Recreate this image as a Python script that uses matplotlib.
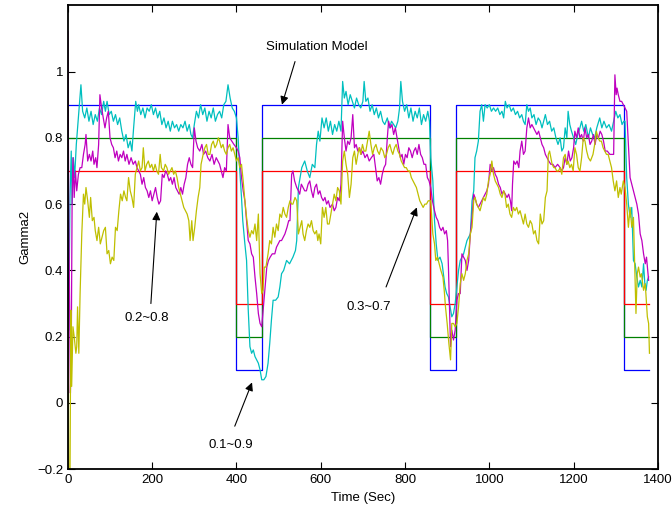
import numpy as np
import matplotlib
matplotlib.use("Agg")
import matplotlib.pyplot as plt

plt.rcParams['font.family'] = ['Liberation Sans', 'DejaVu Sans']

# switching instants of the simulation model and its three levels
switch_t = [0, 400, 460, 860, 920, 1320, 1380]
model_09 = [0.9, 0.1, 0.9, 0.1, 0.9, 0.1]
model_08 = [0.8, 0.2, 0.8, 0.2, 0.8, 0.2]
model_07 = [0.7, 0.3, 0.7, 0.3, 0.7, 0.3]

# estimated response 0.1~0.9 (cyan)
cyan_t = [0, 2, 5, 8, 10, 13, 16, 20, 25, 31, 35, 40, 45, 50, 55, 60, 65, 70, 75, 80, 85, 89, 93, 98,
          103, 108, 113, 118, 123, 128, 133, 138, 143, 148, 152, 156, 161, 165, 168, 173, 178, 183, 188,
          193, 198, 203, 208, 213, 218, 223, 228, 233, 238, 243, 248, 253, 258, 263, 268, 273, 278, 283,
          288, 292, 296, 300, 305, 310, 315, 320, 325, 330, 335, 340, 345, 350, 355, 360, 365, 370, 375,
          380, 385, 390, 395, 400, 404, 408, 412, 415, 420, 424, 428, 432, 436, 440, 444, 448, 452, 456,
          460, 465, 470, 475, 479, 483, 487, 493, 499, 503, 507, 512, 519, 526, 534, 540, 543, 547, 551,
          555, 562, 568, 574, 580, 586, 590, 594, 598, 603, 608, 613, 618, 623, 628, 633, 638, 643, 648,
          652, 656, 660, 665, 670, 675, 680, 685, 690, 695, 700, 703, 707, 712, 717, 722, 727, 732, 737,
          742, 747, 752, 758, 763, 768, 773, 778, 783, 787, 790, 794, 799, 804, 809, 814, 819, 824, 829,
          834, 839, 844, 849, 854, 858, 861, 866, 870, 874, 878, 883, 888, 892, 895, 899, 903, 907, 911,
          915, 919, 923, 927, 931, 935, 939, 943, 947, 951, 955, 959, 963, 966, 970, 974, 978, 982, 986,
          990, 995, 1000, 1005, 1010, 1015, 1020, 1025, 1030, 1034, 1038, 1042, 1047, 1052, 1057, 1062,
          1067, 1072, 1077, 1081, 1085, 1089, 1093, 1097, 1101, 1106, 1111, 1116, 1121, 1125, 1129, 1133,
          1138, 1143, 1148, 1153, 1158, 1163, 1168, 1172, 1176, 1180, 1184, 1187, 1191, 1195, 1200, 1205,
          1210, 1215, 1219, 1224, 1229, 1235, 1240, 1245, 1250, 1255, 1262, 1267, 1272, 1278, 1284, 1290,
          1295, 1300, 1305, 1310, 1315, 1319, 1322, 1326, 1330, 1334, 1338, 1342, 1346, 1350, 1354, 1358,
          1362, 1366, 1369, 1372, 1375, 1378]
cyan_v = [0.80, 0.22, 0.62, 0.76, 0.60, 0.74, 0.68, 0.78, 0.86, 0.96, 0.88, 0.86, 0.89, 0.85, 0.88, 0.84,
          0.87, 0.85, 0.89, 0.87, 0.91, 0.88, 0.91, 0.87, 0.88, 0.85, 0.87, 0.84, 0.86, 0.82, 0.79, 0.81,
          0.77, 0.79, 0.76, 0.83, 0.91, 0.88, 0.90, 0.87, 0.89, 0.86, 0.89, 0.88, 0.90, 0.87, 0.89, 0.86,
          0.88, 0.84, 0.86, 0.83, 0.85, 0.82, 0.85, 0.83, 0.84, 0.82, 0.84, 0.83, 0.85, 0.82, 0.84, 0.81,
          0.80, 0.84, 0.88, 0.86, 0.90, 0.87, 0.89, 0.85, 0.88, 0.86, 0.89, 0.85, 0.87, 0.88, 0.86, 0.90,
          0.91, 0.96, 0.92, 0.89, 0.88, 0.86, 0.80, 0.70, 0.62, 0.55, 0.48, 0.43, 0.28, 0.17, 0.15, 0.16,
          0.14, 0.13, 0.12, 0.10, 0.07, 0.07, 0.08, 0.12, 0.18, 0.25, 0.31, 0.31, 0.32, 0.35, 0.39, 0.40,
          0.43, 0.42, 0.44, 0.46, 0.49, 0.65, 0.68, 0.71, 0.73, 0.70, 0.68, 0.72, 0.71, 0.78, 0.82, 0.79,
          0.86, 0.83, 0.86, 0.82, 0.85, 0.81, 0.84, 0.82, 0.85, 0.82, 0.97, 0.92, 0.94, 0.90, 0.93, 0.91,
          0.89, 0.92, 0.90, 0.89, 0.91, 0.97, 0.91, 0.92, 0.88, 0.90, 0.87, 0.89, 0.86, 0.88, 0.85, 0.84,
          0.86, 0.83, 0.85, 0.84, 0.83, 0.85, 0.89, 0.97, 0.91, 0.88, 0.90, 0.86, 0.89, 0.85, 0.88, 0.86,
          0.89, 0.84, 0.87, 0.85, 0.88, 0.85, 0.74, 0.67, 0.55, 0.48, 0.43, 0.44, 0.42, 0.38, 0.35, 0.33,
          0.32, 0.29, 0.26, 0.27, 0.30, 0.35, 0.40, 0.43, 0.44, 0.45, 0.47, 0.49, 0.50, 0.51, 0.61, 0.64,
          0.74, 0.76, 0.79, 0.88, 0.90, 0.85, 0.90, 0.89, 0.90, 0.88, 0.89, 0.88, 0.89, 0.87, 0.88, 0.86,
          0.91, 0.89, 0.90, 0.88, 0.89, 0.87, 0.88, 0.86, 0.87, 0.85, 0.84, 0.90, 0.88, 0.89, 0.86, 0.87,
          0.84, 0.86, 0.85, 0.83, 0.85, 0.87, 0.84, 0.85, 0.82, 0.83, 0.80, 0.78, 0.80, 0.76, 0.77, 0.83,
          0.80, 0.88, 0.84, 0.82, 0.80, 0.78, 0.81, 0.83, 0.85, 0.82, 0.84, 0.80, 0.83, 0.81, 0.80, 0.83,
          0.86, 0.83, 0.85, 0.83, 0.84, 0.82, 0.85, 0.88, 0.86, 0.87, 0.84, 0.85, 0.85, 0.68, 0.60, 0.56,
          0.59, 0.43, 0.42, 0.38, 0.35, 0.37, 0.35, 0.42, 0.36, 0.34, 0.37, 0.38]

# estimated response 0.2~0.8 (magenta)
mag_t = [0, 2, 4, 6, 8, 10, 12, 15, 18, 21, 25, 29, 33, 37, 41, 43, 47, 51, 55, 59, 62, 66, 69, 73, 76,
         80, 84, 88, 92, 96, 100, 104, 108, 112, 116, 120, 124, 128, 132, 136, 140, 145, 150, 155, 160,
         164, 168, 172, 176, 180, 184, 188, 192, 196, 200, 204, 208, 212, 216, 220, 224, 228, 232, 236,
         240, 244, 248, 252, 256, 260, 264, 268, 272, 276, 280, 284, 288, 292, 296, 300, 304, 308, 313,
         318, 322, 327, 332, 337, 342, 347, 352, 356, 360, 364, 368, 372, 376, 380, 384, 389, 394, 400,
         404, 408, 412, 416, 420, 424, 428, 432, 436, 440, 444, 448, 452, 456, 460, 464, 468, 472, 476,
         480, 485, 491, 495, 499, 503, 507, 511, 515, 520, 524, 527, 531, 534, 538, 543, 547, 550, 554,
         558, 562, 566, 570, 574, 578, 582, 586, 590, 594, 598, 602, 606, 610, 614, 618, 622, 628, 632,
         636, 640, 644, 648, 652, 656, 660, 664, 668, 672, 676, 680, 684, 688, 692, 696, 700, 705, 710,
         715, 720, 726, 730, 734, 738, 742, 746, 750, 754, 758, 761, 765, 769, 773, 777, 781, 785, 789,
         793, 797, 801, 805, 809, 813, 817, 821, 825, 829, 833, 837, 841, 845, 849, 853, 857, 861, 865,
         870, 874, 878, 882, 886, 890, 894, 898, 901, 903, 905, 908, 911, 915, 919, 923, 927, 931, 935,
         939, 943, 947, 951, 955, 959, 963, 966, 970, 974, 978, 982, 986, 990, 994, 998, 1002, 1006,
         1010, 1014, 1018, 1022, 1026, 1030, 1034, 1038, 1042, 1046, 1050, 1053, 1055, 1058, 1062, 1066,
         1070, 1073, 1077, 1081, 1085, 1089, 1093, 1097, 1101, 1105, 1109, 1113, 1117, 1121, 1125, 1129,
         1133, 1137, 1141, 1146, 1151, 1156, 1162, 1168, 1172, 1176, 1180, 1184, 1188, 1192, 1196, 1200,
         1203, 1207, 1211, 1215, 1219, 1223, 1227, 1231, 1235, 1239, 1243, 1247, 1251, 1255, 1259, 1263,
         1267, 1271, 1275, 1280, 1286, 1292, 1295, 1298, 1301, 1303, 1306, 1310, 1314, 1318, 1322, 1326,
         1330, 1334, 1338, 1342, 1346, 1350, 1354, 1358, 1362, 1366, 1370, 1373, 1376, 1378]
mag_v = [1.12, 0.60, 0.30, 0.03, 0.15, 0.60, 0.74, 0.62, 0.70, 0.64, 0.69, 0.71, 0.71, 0.75, 0.78, 0.81,
         0.73, 0.75, 0.73, 0.76, 0.72, 0.74, 0.71, 0.78, 0.93, 0.89, 0.86, 0.83, 0.86, 0.88, 0.80, 0.78,
         0.77, 0.74, 0.76, 0.73, 0.75, 0.74, 0.76, 0.73, 0.75, 0.72, 0.74, 0.72, 0.73, 0.71, 0.70, 0.69,
         0.66, 0.68, 0.65, 0.64, 0.62, 0.64, 0.61, 0.63, 0.65, 0.62, 0.60, 0.61, 0.69, 0.68, 0.70, 0.69,
         0.67, 0.68, 0.66, 0.68, 0.65, 0.64, 0.63, 0.65, 0.63, 0.66, 0.68, 0.72, 0.74, 0.72, 0.71, 0.83,
         0.79, 0.77, 0.76, 0.78, 0.75, 0.76, 0.74, 0.73, 0.75, 0.72, 0.74, 0.73, 0.72, 0.70, 0.68, 0.71,
         0.70, 0.84, 0.80, 0.79, 0.78, 0.77, 0.76, 0.74, 0.68, 0.64, 0.61, 0.55, 0.49, 0.48, 0.45, 0.44,
         0.38, 0.33, 0.27, 0.24, 0.23, 0.29, 0.35, 0.41, 0.43, 0.44, 0.45, 0.45, 0.47, 0.48, 0.49, 0.49,
         0.50, 0.51, 0.53, 0.55, 0.55, 0.69, 0.70, 0.67, 0.65, 0.64, 0.63, 0.66, 0.65, 0.64, 0.64, 0.66,
         0.67, 0.64, 0.62, 0.65, 0.66, 0.63, 0.64, 0.62, 0.61, 0.62, 0.60, 0.61, 0.59, 0.60, 0.58, 0.59,
         0.62, 0.61, 0.66, 0.85, 0.80, 0.76, 0.79, 0.78, 0.80, 0.87, 0.77, 0.78, 0.76, 0.77, 0.75, 0.76,
         0.74, 0.75, 0.73, 0.74, 0.75, 0.71, 0.67, 0.68, 0.66, 0.69, 0.71, 0.72, 0.80, 0.85, 0.83, 0.84,
         0.81, 0.83, 0.80, 0.77, 0.74, 0.75, 0.72, 0.75, 0.74, 0.77, 0.76, 0.74, 0.76, 0.77, 0.75, 0.78,
         0.75, 0.74, 0.72, 0.72, 0.68, 0.67, 0.65, 0.61, 0.58, 0.56, 0.55, 0.53, 0.52, 0.53, 0.51, 0.52,
         0.49, 0.41, 0.31, 0.17, 0.22, 0.19, 0.22, 0.31, 0.33, 0.33, 0.45, 0.44, 0.43, 0.40, 0.43, 0.51,
         0.56, 0.63, 0.62, 0.60, 0.59, 0.60, 0.61, 0.62, 0.63, 0.64, 0.66, 0.72, 0.70, 0.71, 0.69, 0.68,
         0.66, 0.65, 0.63, 0.64, 0.63, 0.62, 0.63, 0.61, 0.58, 0.66, 0.73, 0.72, 0.73, 0.71, 0.76, 0.79,
         0.75, 0.76, 0.83, 0.86, 0.83, 0.84, 0.83, 0.82, 0.81, 0.82, 0.80, 0.78, 0.77, 0.75, 0.74, 0.73,
         0.72, 0.72, 0.71, 0.72, 0.71, 0.70, 0.71, 0.74, 0.72, 0.76, 0.73, 0.74, 0.77, 0.82, 0.80, 0.83,
         0.80, 0.81, 0.79, 0.83, 0.80, 0.81, 0.78, 0.79, 0.81, 0.78, 0.81, 0.80, 0.82, 0.81, 0.79, 0.76,
         0.76, 0.75, 0.75, 0.75, 0.99, 0.93, 0.95, 0.93, 0.91, 0.91, 0.90, 0.89, 0.88, 0.78, 0.68, 0.66,
         0.64, 0.62, 0.60, 0.57, 0.51, 0.49, 0.45, 0.42, 0.44, 0.40, 0.37]

# estimated response 0.3~0.7 (yellow)
yel_t = [0, 2, 5, 7, 9, 12, 15, 19, 21, 23, 26, 29, 33, 37, 40, 43, 47, 51, 54, 58, 62, 65, 69, 73, 77,
         81, 85, 89, 93, 97, 101, 105, 109, 113, 117, 121, 125, 129, 133, 137, 140, 144, 148, 152, 156,
         160, 164, 168, 172, 176, 179, 183, 187, 191, 195, 199, 203, 207, 211, 215, 219, 222, 227, 231,
         235, 239, 243, 247, 251, 255, 259, 263, 267, 271, 275, 279, 283, 287, 290, 294, 297, 301, 305,
         309, 313, 316, 321, 325, 329, 333, 337, 341, 345, 349, 353, 357, 360, 364, 368, 372, 376, 380,
         384, 388, 392, 396, 400, 404, 408, 412, 416, 420, 424, 428, 432, 436, 440, 444, 448, 452, 456,
         460, 463, 466, 470, 475, 479, 483, 487, 491, 495, 499, 503, 507, 511, 515, 519, 523, 527, 531,
         534, 539, 543, 547, 551, 555, 558, 562, 566, 570, 574, 578, 582, 586, 590, 593, 596, 600, 604,
         608, 612, 616, 620, 624, 628, 632, 636, 640, 644, 648, 652, 656, 660, 664, 668, 672, 676, 680,
         684, 688, 691, 695, 699, 703, 707, 711, 715, 719, 723, 727, 731, 735, 739, 743, 748, 752, 756,
         760, 764, 768, 771, 775, 779, 783, 787, 791, 795, 799, 803, 807, 811, 815, 819, 823, 827, 831,
         835, 839, 843, 847, 851, 855, 858, 861, 864, 866, 870, 873, 877, 881, 885, 890, 893, 896, 900,
         904, 908, 911, 915, 919, 923, 927, 931, 935, 939, 943, 947, 951, 955, 959, 963, 966, 970, 974,
         978, 982, 986, 990, 994, 998, 1002, 1006, 1010, 1014, 1018, 1022, 1026, 1030, 1034, 1037, 1041,
         1045, 1049, 1053, 1057, 1061, 1065, 1069, 1073, 1077, 1081, 1085, 1089, 1093, 1097, 1101, 1105,
         1109, 1113, 1117, 1121, 1125, 1129, 1133, 1137, 1140, 1143, 1146, 1149, 1153, 1156, 1160, 1164,
         1168, 1172, 1176, 1180, 1184, 1187, 1191, 1195, 1199, 1203, 1207, 1211, 1215, 1219, 1223, 1227,
         1231, 1235, 1240, 1246, 1250, 1254, 1258, 1262, 1266, 1270, 1274, 1278, 1282, 1286, 1290, 1294,
         1298, 1302, 1306, 1310, 1313, 1318, 1322, 1326, 1330, 1334, 1338, 1342, 1345, 1348, 1351, 1354,
         1358, 1361, 1366, 1370, 1375, 1378, 1380]
yel_v = [0.35, -0.25, -0.25, 0.28, 0.05, 0.23, 0.20, 0.15, 0.17, 0.29, 0.15, 0.33, 0.51, 0.63, 0.60,
         0.65, 0.61, 0.56, 0.62, 0.55, 0.56, 0.52, 0.49, 0.53, 0.48, 0.50, 0.52, 0.53, 0.45, 0.46, 0.42,
         0.44, 0.43, 0.53, 0.52, 0.58, 0.63, 0.61, 0.64, 0.62, 0.61, 0.68, 0.64, 0.62, 0.59, 0.69, 0.71,
         0.73, 0.70, 0.71, 0.77, 0.70, 0.72, 0.73, 0.71, 0.72, 0.70, 0.72, 0.70, 0.69, 0.75, 0.71, 0.70,
         0.72, 0.71, 0.69, 0.70, 0.71, 0.69, 0.70, 0.68, 0.65, 0.63, 0.61, 0.59, 0.58, 0.57, 0.55, 0.49,
         0.55, 0.49, 0.53, 0.58, 0.62, 0.65, 0.72, 0.75, 0.77, 0.78, 0.75, 0.75, 0.78, 0.79, 0.77, 0.78,
         0.80, 0.79, 0.77, 0.78, 0.76, 0.75, 0.77, 0.78, 0.76, 0.77, 0.75, 0.73, 0.74, 0.71, 0.72, 0.67,
         0.61, 0.56, 0.52, 0.50, 0.52, 0.51, 0.54, 0.49, 0.57, 0.39, 0.33, 0.34, 0.41, 0.41, 0.45, 0.49,
         0.48, 0.53, 0.50, 0.54, 0.52, 0.57, 0.56, 0.59, 0.57, 0.56, 0.59, 0.61, 0.60, 0.60, 0.62, 0.61,
         0.51, 0.53, 0.55, 0.51, 0.49, 0.52, 0.54, 0.53, 0.55, 0.52, 0.51, 0.52, 0.49, 0.51, 0.48, 0.59,
         0.56, 0.59, 0.54, 0.54, 0.57, 0.60, 0.63, 0.61, 0.65, 0.64, 0.60, 0.73, 0.76, 0.72, 0.69, 0.62,
         0.66, 0.74, 0.76, 0.72, 0.75, 0.77, 0.75, 0.78, 0.76, 0.76, 0.79, 0.82, 0.78, 0.75, 0.77, 0.78,
         0.76, 0.75, 0.77, 0.76, 0.74, 0.75, 0.77, 0.78, 0.76, 0.75, 0.77, 0.78, 0.76, 0.75, 0.73, 0.72,
         0.71, 0.71, 0.70, 0.70, 0.68, 0.67, 0.66, 0.65, 0.63, 0.61, 0.60, 0.59, 0.60, 0.60, 0.61, 0.61,
         0.61, 0.55, 0.51, 0.48, 0.43, 0.44, 0.42, 0.40, 0.38, 0.34, 0.29, 0.24, 0.18, 0.13, 0.24, 0.24,
         0.23, 0.24, 0.29, 0.36, 0.39, 0.37, 0.39, 0.43, 0.45, 0.51, 0.53, 0.61, 0.62, 0.60, 0.59, 0.58,
         0.60, 0.62, 0.61, 0.63, 0.67, 0.69, 0.73, 0.69, 0.67, 0.66, 0.65, 0.63, 0.62, 0.64, 0.63, 0.59,
         0.60, 0.57, 0.56, 0.59, 0.58, 0.59, 0.57, 0.58, 0.56, 0.54, 0.57, 0.54, 0.53, 0.55, 0.54, 0.51,
         0.52, 0.49, 0.48, 0.57, 0.54, 0.55, 0.62, 0.64, 0.75, 0.76, 0.74, 0.72, 0.71, 0.71, 0.70, 0.70,
         0.71, 0.69, 0.74, 0.75, 0.72, 0.73, 0.71, 0.72, 0.70, 0.77, 0.75, 0.71, 0.70, 0.74, 0.80, 0.79,
         0.76, 0.74, 0.73, 0.75, 0.78, 0.82, 0.80, 0.79, 0.79, 0.77, 0.76, 0.75, 0.75, 0.73, 0.71, 0.67,
         0.64, 0.67, 0.62, 0.65, 0.63, 0.67, 0.65, 0.60, 0.53, 0.59, 0.53, 0.56, 0.41, 0.27, 0.39, 0.41,
         0.38, 0.39, 0.34, 0.36, 0.26, 0.24, 0.15]

fig = plt.figure(figsize=(6.72, 5.22), dpi=100)
ax = fig.add_axes([0.101, 0.101, 0.878, 0.889])

lw = 0.9
ax.plot(switch_t, model_09 + model_09[-1:], drawstyle='steps-post', color='#0000ff', lw=lw)
ax.plot(switch_t, model_08 + model_08[-1:], drawstyle='steps-post', color='#008000', lw=lw)
ax.plot(switch_t, model_07 + model_07[-1:], drawstyle='steps-post', color='#ff0000', lw=lw)
ax.plot(cyan_t, cyan_v, color='#00bfbf', lw=lw)
ax.plot(mag_t, mag_v, color='#bf00bf', lw=lw)
ax.plot(yel_t, yel_v, color='#bfbf00', lw=lw)

ax.set_xlim(0, 1400)
ax.set_ylim(-0.2, 1.2)
ax.set_xticks(np.arange(0, 1401, 200))
ax.set_yticks([-0.2, 0, 0.2, 0.4, 0.6, 0.8, 1.0])
ax.set_yticklabels(['\u22120.2', '0', '0.2', '0.4', '0.6', '0.8', '1'])
ax.tick_params(direction='in', top=True, right=True, labelsize=9.5, length=5, width=0.8)
for s in ax.spines.values():
    s.set_linewidth(1.3)

ax.set_xlabel('Time (Sec)', fontsize=9.5)
ax.set_ylabel('Gamma2', fontsize=9.5)

arrow = dict(arrowstyle='-|>', color='black', lw=0.8, mutation_scale=12, shrinkA=0, shrinkB=0)
ax.annotate('', xy=(508, 0.9), xytext=(539, 1.03), arrowprops=arrow)
ax.text(590, 1.075, 'Simulation Model', ha='center', va='center', fontsize=9.5)
ax.annotate('', xy=(211, 0.577), xytext=(197, 0.30), arrowprops=arrow)
ax.text(188, 0.255, '0.2~0.8', ha='center', va='center', fontsize=9.5)
ax.annotate('', xy=(437, 0.062), xytext=(396, -0.07), arrowprops=arrow)
ax.text(387, -0.128, '0.1~0.9', ha='center', va='center', fontsize=9.5)
ax.annotate('', xy=(828, 0.59), xytext=(755, 0.35), arrowprops=arrow)
ax.text(714, 0.29, '0.3~0.7', ha='center', va='center', fontsize=9.5)

fig.savefig('out.png', dpi=100)
